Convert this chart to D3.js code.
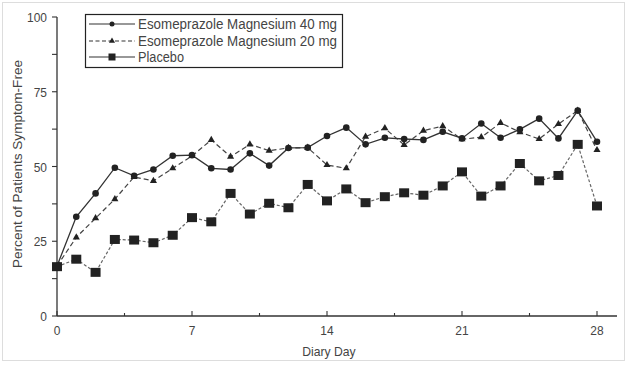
<!DOCTYPE html>
<html><head><meta charset="utf-8">
<script src="https://cdn.jsdelivr.net/npm/d3@7"></script>
<style>
body{margin:0;background:#fff;}
svg{display:block;font-family:"Liberation Sans",Arial,sans-serif;}
</style></head><body>
<svg id="c" width="628" height="366"></svg>
<script>
const days = d3.range(0, 29);
const esom40 = [16.7,33.2,41,49.6,46.9,49,53.6,53.8,49.4,49,54.4,50.3,56.2,56.3,60.2,63,57.4,59.6,59.2,58.9,61.6,59.4,64.4,59.6,62.4,66,59.4,68.7,58.3];
const esom20 = [16.7,26.3,32.7,39.1,46.5,45.2,49.4,53.5,58.9,53.3,57.4,55.3,56.2,56.3,50.5,49.4,60,62.8,57.2,62,63.5,59.1,59.8,64.6,61.5,59.2,64.2,68.7,55.5];
const placebo = [16.5,19,14.6,25.6,25.4,24.5,27,32.9,31.5,41,34.1,37.7,36.2,44,38.5,42.5,37.9,39.9,41.2,40.4,43.5,48.2,40.1,43.5,51,45.2,47,57.4,36.8];
const xTicks = [0,3.5,7,10.5,14,17.5,21,24.5,28];
const xLabels = [0,7,14,21,28];
const yTicks = [0,12.5,25,37.5,50,62.5,75,87.5,100];
const yLabels = [0,25,50,75,100];
const seriesNames = ["Esomeprazole Magnesium 40 mg","Esomeprazole Magnesium 20 mg","Placebo"];

const svg = d3.select("#c");
svg.append("rect").attr("x",2.5).attr("y",2.5).attr("width",622).attr("height",358)
  .attr("fill","none").attr("stroke","#ddd");

const x = d3.scaleLinear().domain([0,28]).range([57,597]);
const y = d3.scaleLinear().domain([0,100]).range([316,17]);
const axCol = "#333", txtCol = "#444";

function condense(sel, f){
  sel.each(function(){
    const w = this.getComputedTextLength();
    d3.select(this).attr("textLength", w*f).attr("lengthAdjust","spacingAndGlyphs");
  });
}

// x axis
const gx = svg.append("g").attr("transform","translate(0,316)");
gx.append("line").attr("x1",57).attr("x2",617).attr("stroke",axCol).attr("stroke-width",1.3);
gx.selectAll("line.t").data(xTicks).join("line").attr("class","t")
  .attr("x1",d=>x(d)).attr("x2",d=>x(d)).attr("y1",0)
  .attr("y2",d=>xLabels.includes(d)?-5:-3).attr("stroke",axCol).attr("stroke-width",1.1);
gx.selectAll("text").data(xLabels).join("text")
  .attr("x",d=>x(d)).attr("y",19).attr("text-anchor","middle")
  .attr("font-size",13).attr("fill",txtCol).text(d=>d).call(condense,0.92);
svg.append("text").attr("x",329).attr("y",356).attr("text-anchor","middle")
  .attr("font-size",13.5).attr("fill",txtCol).text("Diary Day").call(condense,0.9);

// y axis
const gy = svg.append("g").attr("transform","translate(57,0)");
gy.append("line").attr("y1",y(0)).attr("y2",y(100)).attr("stroke",axCol).attr("stroke-width",1.3);
gy.selectAll("line.t").data(yTicks).join("line").attr("class","t")
  .attr("y1",d=>y(d)).attr("y2",d=>y(d)).attr("x1",0).attr("x2",-5)
  .attr("stroke",axCol).attr("stroke-width",1.1);
gy.selectAll("text").data(yLabels).join("text")
  .attr("x",-10).attr("y",d=>y(d)+5).attr("text-anchor","end")
  .attr("font-size",13).attr("fill",txtCol).text(d=>d).call(condense,0.92);
svg.append("text").attr("transform","translate(22,164) rotate(-90)")
  .attr("text-anchor","middle").attr("font-size",13.5).attr("fill",txtCol)
  .text("Percent of Patients Symptom-Free").attr("textLength",208).attr("lengthAdjust","spacingAndGlyphs");

const line = d3.line().x((d,i)=>x(days[i])).y(d=>y(d));
const plot = svg.append("g");

plot.append("path").datum(placebo).attr("d",line).attr("fill","none")
  .attr("stroke","#666").attr("stroke-width",1.2).attr("stroke-dasharray","3,2");
plot.append("path").datum(esom20).attr("d",line).attr("fill","none")
  .attr("stroke","#444").attr("stroke-width",1.2).attr("stroke-dasharray","5,3");
plot.append("path").datum(esom40).attr("d",line).attr("fill","none")
  .attr("stroke","#333").attr("stroke-width",1.3);

const tri = d3.symbol().type(d3.symbolTriangle).size(22);
plot.selectAll("path.tri").data(esom20).join("path").attr("class","tri")
  .attr("transform",(d,i)=>`translate(${x(days[i])},${y(d)})`).attr("d",tri).attr("fill","#222");
plot.selectAll("circle.c40").data(esom40).join("circle").attr("class","c40")
  .attr("cx",(d,i)=>x(days[i])).attr("cy",d=>y(d)).attr("r",3.3).attr("fill","#222");
plot.selectAll("rect.sq").data(placebo).join("rect").attr("class","sq")
  .attr("x",(d,i)=>x(days[i])-5).attr("y",d=>y(d)-4.5).attr("width",10).attr("height",9).attr("fill","#222");

// legend
const lg = svg.append("g");
lg.append("rect").attr("x",85.5).attr("y",14.5).attr("width",257).attr("height",53)
  .attr("fill","#fff").attr("stroke","#222").attr("stroke-width",1.2);
const rows = [24,41,57];
const dashes = [null,"4,2.5",null];
const widths = [199,199,46];
rows.forEach((ry,i)=>{
  lg.append("line").attr("x1",89).attr("x2",135).attr("y1",ry).attr("y2",ry)
    .attr("stroke","#333").attr("stroke-width",1.2).attr("stroke-dasharray",dashes[i]);
  const mx = 112;
  if(i===0) lg.append("circle").attr("cx",mx).attr("cy",ry).attr("r",2.5).attr("fill","#222");
  if(i===1) lg.append("path").attr("transform",`translate(${mx},${ry})`).attr("d",d3.symbol().type(d3.symbolTriangle).size(16)).attr("fill","#222");
  if(i===2) lg.append("rect").attr("x",mx-3.5).attr("y",ry-3.5).attr("width",7).attr("height",7).attr("fill","#222");
  lg.append("text").attr("x",138).attr("y",ry+5).attr("font-size",14).attr("fill",txtCol)
    .text(seriesNames[i]).attr("textLength",widths[i]).attr("lengthAdjust","spacingAndGlyphs");
});
</script></body></html>
